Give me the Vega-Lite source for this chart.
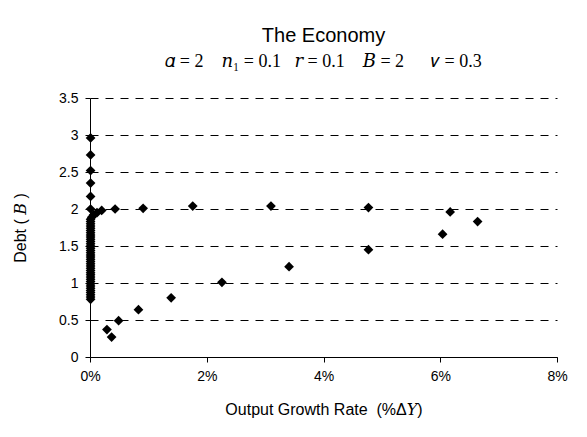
{
  "$schema": "https://vega.github.io/schema/vega-lite/v6.json",
  "autosize": "none",
  "width": 467,
  "height": 259,
  "padding": {"left": 90, "top": 98, "right": 30, "bottom": 80},
  "background": "white",
  "title": {
    "text": "The Economy",
    "subtitle": "𝛼 = 2\u00a0\u00a0\u00a0\u00a0𝑛₁ = 0.1\u00a0\u00a0\u00a0𝑟 = 0.1\u00a0\u00a0\u00a0\u00a0𝐵 = 2\u00a0\u00a0\u00a0\u00a0\u00a0\u00a0𝜈 = 0.3",
    "font": "Liberation Sans",
    "fontSize": 20,
    "fontWeight": "normal",
    "color": "black",
    "subtitleFont": "Liberation Serif, DejaVu Serif",
    "subtitleFontSize": 18,
    "subtitleColor": "black",
    "subtitlePadding": 7,
    "offset": 20,
    "anchor": "middle"
  },
  "data": {
    "values": [
      {"g": 0.01, "d": 2.96}, {"g": 0.01, "d": 2.73}, {"g": 0.01, "d": 2.52}, {"g": 0.01, "d": 2.35},
      {"g": 0.01, "d": 2.17}, {"g": 0.01, "d": 2.0},
      {"g": 0.20, "d": 1.98}, {"g": 0.43, "d": 2.0}, {"g": 0.91, "d": 2.01}, {"g": 1.76, "d": 2.04},
      {"g": 3.10, "d": 2.04}, {"g": 4.77, "d": 2.02}, {"g": 6.17, "d": 1.96}, {"g": 6.64, "d": 1.83},
      {"g": 6.04, "d": 1.66}, {"g": 4.77, "d": 1.45}, {"g": 3.41, "d": 1.22}, {"g": 2.26, "d": 1.01},
      {"g": 1.39, "d": 0.8}, {"g": 0.83, "d": 0.64}, {"g": 0.49, "d": 0.49}, {"g": 0.29, "d": 0.37},
      {"g": 0.37, "d": 0.27},
      {"g": 0.12, "d": 1.95}, {"g": 0.06, "d": 1.92}, {"g": 0.03, "d": 1.89},
      {"g": 0.01, "d": 1.86}, {"g": 0.01, "d": 1.83}, {"g": 0.01, "d": 1.80}, {"g": 0.01, "d": 1.77},
      {"g": 0.01, "d": 1.74}, {"g": 0.01, "d": 1.71}, {"g": 0.01, "d": 1.68}, {"g": 0.01, "d": 1.65},
      {"g": 0.01, "d": 1.62}, {"g": 0.01, "d": 1.59}, {"g": 0.01, "d": 1.56}, {"g": 0.01, "d": 1.53},
      {"g": 0.01, "d": 1.50}, {"g": 0.01, "d": 1.47}, {"g": 0.01, "d": 1.44}, {"g": 0.01, "d": 1.41},
      {"g": 0.01, "d": 1.38}, {"g": 0.01, "d": 1.35}, {"g": 0.01, "d": 1.32}, {"g": 0.01, "d": 1.29},
      {"g": 0.01, "d": 1.26}, {"g": 0.01, "d": 1.23}, {"g": 0.01, "d": 1.20}, {"g": 0.01, "d": 1.17},
      {"g": 0.01, "d": 1.14}, {"g": 0.01, "d": 1.11}, {"g": 0.01, "d": 1.08}, {"g": 0.01, "d": 1.05},
      {"g": 0.01, "d": 1.02}, {"g": 0.01, "d": 0.99}, {"g": 0.01, "d": 0.96}, {"g": 0.01, "d": 0.93},
      {"g": 0.01, "d": 0.90}, {"g": 0.01, "d": 0.87}, {"g": 0.01, "d": 0.84}, {"g": 0.01, "d": 0.81},
      {"g": 0.01, "d": 0.78}
    ]
  },
  "mark": {"type": "point", "shape": "diamond", "filled": true, "color": "black", "opacity": 1, "size": 95},
  "encoding": {
    "x": {
      "field": "g", "type": "quantitative",
      "scale": {"domain": [0, 8], "nice": false, "zero": true},
      "axis": {
        "values": [0, 2, 4, 6, 8],
        "labelExpr": "datum.value + '%'",
        "grid": false,
        "labelPadding": 7,
        "title": "Output Growth Rate\u00a0\u00a0(%Δ𝑌)",
        "titlePadding": 18
      }
    },
    "y": {
      "field": "d", "type": "quantitative",
      "scale": {"domain": [0, 3.5], "nice": false},
      "axis": {
        "values": [0, 0.5, 1, 1.5, 2, 2.5, 3, 3.5],
        "labelExpr": "datum.value + ''",
        "grid": true,
        "gridDash": [8, 7],
        "gridColor": "black",
        "gridOpacity": 1,
        "labelPadding": 7,
        "title": "Debt ( 𝐵 )",
        "titlePadding": 30
      }
    }
  },
  "config": {
    "view": {"stroke": null},
    "axis": {
      "labelFont": "Liberation Sans",
      "labelFontSize": 14,
      "labelColor": "black",
      "titleFont": "Liberation Sans, DejaVu Serif",
      "titleFontSize": 16,
      "titleFontWeight": "normal",
      "titleColor": "black",
      "domainColor": "black",
      "tickColor": "black",
      "tickSize": 5,
      "labelFlush": false,
      "labelOverlap": false
    }
  }
}
